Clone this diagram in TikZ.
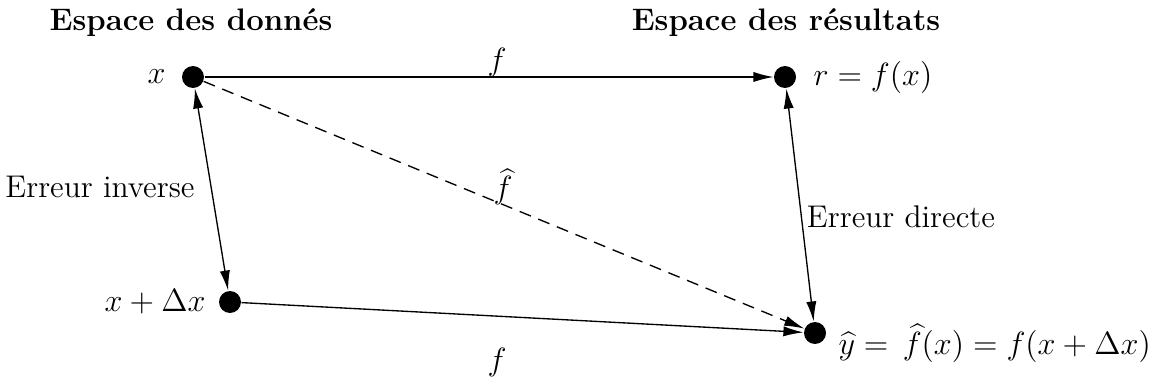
\documentclass[tikz,border=0pt]{standalone}
\usetikzlibrary{arrows.meta}
\begin{document}
\begin{tikzpicture}[x=0.3731pt,y=-0.3731pt,
  dot/.style={circle,fill=black,inner sep=0pt,minimum size=8.2pt},
  conn/.style={line width=0.5pt,-{Latex[length=7.5pt,width=3.8pt]}},
  biconn/.style={line width=0.5pt,{Latex[length=7.5pt,width=3.8pt]}-{Latex[length=7.5pt,width=3.8pt]}},
  lbl/.style={inner sep=0pt},
  big/.style={font=\fontsize{11.7}{14}\selectfont},
  head/.style={font=\fontsize{11.6}{14}\selectfont\bfseries}]
\useasboundingbox (0,0) rectangle (1162,390);
\node[lbl,head] (h1) at (191,23) {Espace des donnés};
\node[lbl,head] (h2) at (786,23) {Espace des résultats};
\node[dot] (x) at (193,77) {};
\node[dot] (r) at (785,77) {};
\node[dot] (xd) at (230,302) {};
\node[dot] (y) at (815,333) {};
\node[lbl,big,anchor=east] (lx) at (166,77) {$x$};
\node[lbl,big,anchor=west] (lr) at (813,77) {$r = f(x)$};
\node[lbl,big,anchor=east] (lxd) at (206,302) {$x+\Delta x$};
\node[lbl,big,anchor=west] (ly) at (838,343) {$\widehat{y} = \,\widehat{f}(x) = f(x+\Delta x)$};
\draw[conn] (x) -- (r);
\draw[conn,dash pattern=on 4.5pt off 3pt] (x) -- (y);
\draw[conn] (xd) -- (y);
\draw[biconn] (x) -- (xd);
\draw[biconn] (r) -- (y);
\node[lbl,big] (f1) at (497,62) {$f$};
\node[lbl,big] (f2) at (503,187) {$\widehat{f}$};
\node[lbl,big] (f3) at (497,362) {$f$};
\node[lbl,big] (ei) at (100,187) {Erreur inverse};
\node[lbl,big] (ed) at (901,217) {Erreur directe};
\end{tikzpicture}
\end{document}
